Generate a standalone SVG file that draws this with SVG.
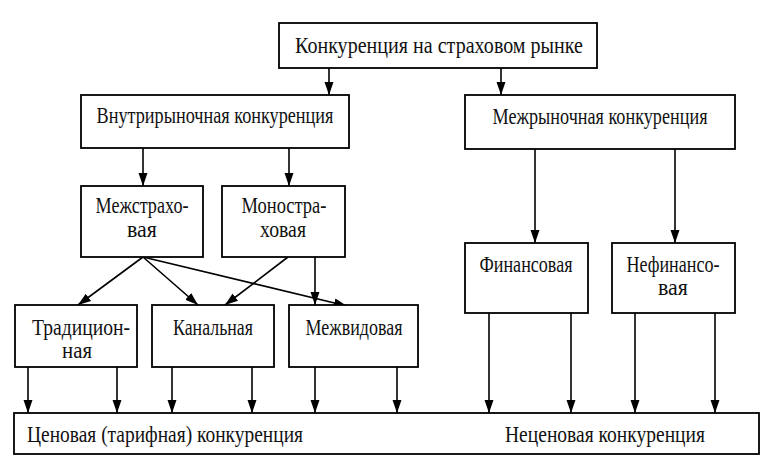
<svg xmlns="http://www.w3.org/2000/svg" width="768" height="463" viewBox="0 0 768 463">
<style>
  .box { fill: #fff; stroke: #000; stroke-width: 1.8; }
  .t { font-family: "Liberation Serif", "Times New Roman", serif; font-size: 23px; fill: #111; }
  .c { text-anchor: middle; }
  .ln { stroke: #000; stroke-width: 1.6; fill: none; marker-end: url(#ah); }
</style>
<defs>
  <marker id="ah" markerUnits="userSpaceOnUse" markerWidth="13" markerHeight="13" viewBox="0 0 13 13" refX="13" refY="6.5" orient="auto">
    <path d="M0,2 L13,6.5 L0,11 Z" fill="#000"/>
  </marker>
</defs>
<rect width="768" height="463" fill="#fff"/>

<g id="connectors">
  <line class="ln" x1="329" y1="68" x2="329" y2="95"/>
  <line class="ln" x1="501" y1="68" x2="501" y2="95"/>
  <line class="ln" x1="143" y1="148" x2="143" y2="186"/>
  <line class="ln" x1="289" y1="148" x2="289" y2="186"/>
  <line class="ln" x1="535" y1="149" x2="535" y2="243"/>
  <line class="ln" x1="675" y1="149" x2="675" y2="243"/>
  <line class="ln" x1="143" y1="257" x2="78" y2="305"/>
  <line class="ln" x1="143" y1="257" x2="198" y2="305"/>
  <line class="ln" x1="143" y1="257" x2="347" y2="306"/>
  <line class="ln" x1="288" y1="257" x2="225" y2="305"/>
  <line class="ln" x1="315" y1="257" x2="315" y2="305"/>
  <line class="ln" x1="28" y1="367" x2="28" y2="413"/>
  <line class="ln" x1="117" y1="367" x2="117" y2="413"/>
  <line class="ln" x1="172" y1="367" x2="172" y2="413"/>
  <line class="ln" x1="252" y1="367" x2="252" y2="413"/>
  <line class="ln" x1="315" y1="367" x2="315" y2="413"/>
  <line class="ln" x1="397" y1="367" x2="397" y2="413"/>
  <line class="ln" x1="489" y1="313" x2="489" y2="413"/>
  <line class="ln" x1="571" y1="313" x2="571" y2="413"/>
  <line class="ln" x1="635" y1="313" x2="635" y2="413"/>
  <line class="ln" x1="715" y1="313" x2="715" y2="413"/>
</g>

<g id="n-top">
  <rect class="box" x="279" y="23" width="318" height="45"/>
  <text class="t c" x="439" y="53" textLength="288" lengthAdjust="spacingAndGlyphs">Конкуренция на страховом рынке</text>
</g>
<g id="n-intra">
  <rect class="box" x="81" y="95" width="268" height="53"/>
  <text class="t c" x="215" y="123" textLength="237" lengthAdjust="spacingAndGlyphs">Внутрирыночная конкуренция</text>
</g>
<g id="n-inter">
  <rect class="box" x="465" y="95" width="270" height="54"/>
  <text class="t c" x="600" y="124" textLength="215" lengthAdjust="spacingAndGlyphs">Межрыночная конкуренция</text>
</g>
<g id="n-mezhstrakh">
  <rect class="box" x="81" y="186" width="122" height="71"/>
  <text class="t c" x="142" y="213" textLength="93" lengthAdjust="spacingAndGlyphs">Межстрахо-</text>
  <text class="t c" x="142" y="237" textLength="30" lengthAdjust="spacingAndGlyphs">вая</text>
</g>
<g id="n-monostrakh">
  <rect class="box" x="222" y="186" width="123" height="71"/>
  <text class="t c" x="284" y="213" textLength="85" lengthAdjust="spacingAndGlyphs">Моностра-</text>
  <text class="t c" x="283" y="237" textLength="46" lengthAdjust="spacingAndGlyphs">ховая</text>
</g>
<g id="n-trad">
  <rect class="box" x="15" y="305" width="122" height="62"/>
  <text class="t c" x="81" y="335" textLength="98" lengthAdjust="spacingAndGlyphs">Традицион-</text>
  <text class="t c" x="77" y="358" textLength="30" lengthAdjust="spacingAndGlyphs">ная</text>
</g>
<g id="n-kanal">
  <rect class="box" x="152" y="305" width="122" height="62"/>
  <text class="t c" x="213" y="335" textLength="80" lengthAdjust="spacingAndGlyphs">Канальная</text>
</g>
<g id="n-mezhvid">
  <rect class="box" x="289" y="305" width="129" height="62"/>
  <text class="t c" x="354" y="335" textLength="97" lengthAdjust="spacingAndGlyphs">Межвидовая</text>
</g>
<g id="n-fin">
  <rect class="box" x="465" y="243" width="123" height="70"/>
  <text class="t c" x="526" y="272" textLength="93" lengthAdjust="spacingAndGlyphs">Финансовая</text>
</g>
<g id="n-nefin">
  <rect class="box" x="612" y="243" width="123" height="70"/>
  <text class="t c" x="673" y="272" textLength="93" lengthAdjust="spacingAndGlyphs">Нефинансо-</text>
  <text class="t c" x="673" y="295" textLength="30" lengthAdjust="spacingAndGlyphs">вая</text>
</g>
<g id="n-bottom">
  <rect class="box" x="14" y="413" width="745" height="41"/>
  <text class="t" x="27" y="442" textLength="276" lengthAdjust="spacingAndGlyphs">Ценовая (тарифная) конкуренция</text>
  <text class="t" x="505" y="442" textLength="200" lengthAdjust="spacingAndGlyphs">Неценовая конкуренция</text>
</g>
</svg>
